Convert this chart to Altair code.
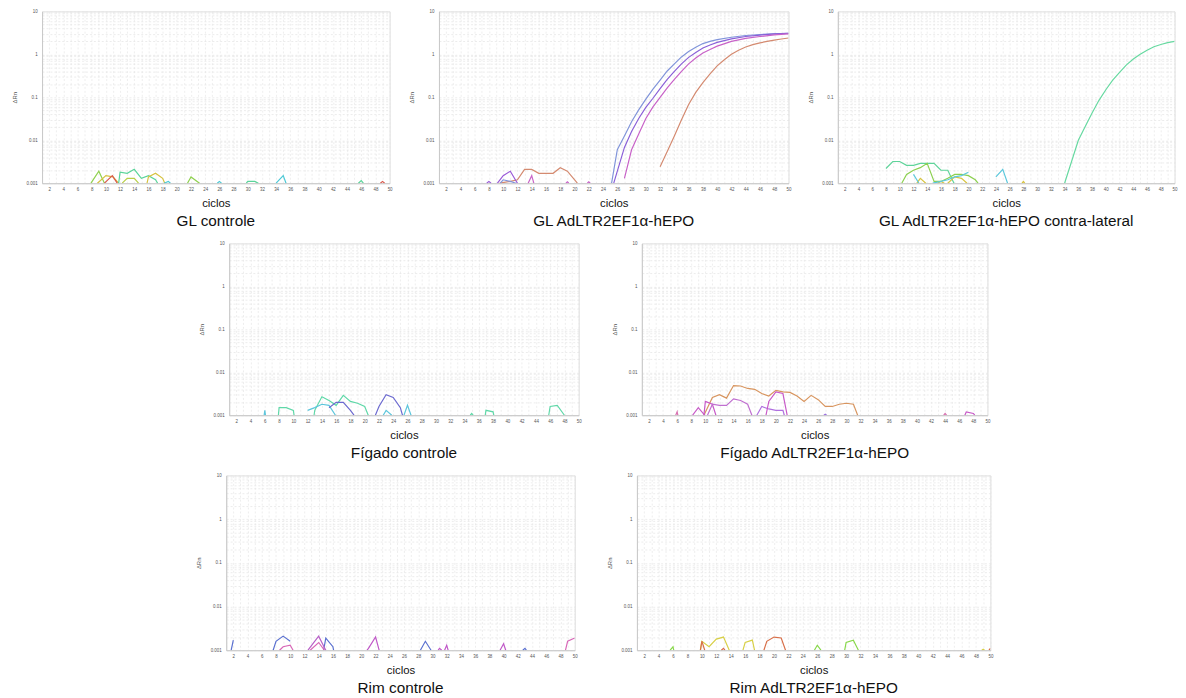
import altair as alt
import pandas as pd

# ---------------- data (cycle lists / ΔRn lists per trace) ----------------
# Panel 1: GL controle
P1 = [
    ("#8fd14f", [7.9, 9, 9.8], [0.001, 0.0019, 0.001]),
    ("#8fd14f", [21.5, 22, 23.2], [0.001, 0.0014, 0.001]),
    ("#d6c23e", [8.8, 10, 11, 11.8], [0.001, 0.0015, 0.0014, 0.001]),
    ("#d9574a", [9.8, 10.9, 11.6], [0.001, 0.0015, 0.001]),
    ("#d9574a", [48.7, 49, 49.3], [0.001, 0.0011, 0.001]),
    ("#5ad49a", [11.8, 12, 13, 14, 15, 16, 17, 17.3], [0.001, 0.0018, 0.0017, 0.0021, 0.0013, 0.0015, 0.0012, 0.001]),
    ("#5ad49a", [29.8, 30, 31, 31.5], [0.001, 0.0011, 0.0011, 0.001]),
    ("#5ad49a", [45.6, 46, 46.3], [0.001, 0.00115, 0.001]),
    ("#b8cf48", [12.3, 13, 14, 14.6], [0.001, 0.0013, 0.0013, 0.001]),
    ("#d6c23e", [15.8, 16, 17, 18, 18.3], [0.001, 0.0014, 0.0017, 0.0013, 0.001]),
    ("#4cc9d6", [18.2, 18.8, 19.1], [0.001, 0.0011, 0.001]),
    ("#4cc9d6", [25.7, 26, 26.3], [0.001, 0.0011, 0.001]),
    ("#4cc9d6", [34, 35, 35.4], [0.001, 0.0015, 0.001]),
]

# Panel 2: GL AdLTR2EF1α-hEPO
BLUE_C = [25.2, 26, 27, 28, 29, 30, 31, 32, 33, 34, 35, 36, 37, 38, 39, 40, 42, 44, 46, 48, 50]
BLUE_V = [0.001, 0.006, 0.0126, 0.027, 0.051, 0.091, 0.155, 0.25, 0.41, 0.6, 0.87, 1.16, 1.46, 1.78, 2.0, 2.2, 2.5, 2.75, 2.9, 3.0, 3.1]
PURP_C = [25.5, 27, 28, 29, 30, 31, 32, 33, 34, 35, 36, 37, 38, 39, 40, 42, 44, 46, 48, 50]
PURP_V = [0.001, 0.0068, 0.016, 0.032, 0.058, 0.095, 0.16, 0.26, 0.4, 0.6, 0.85, 1.1, 1.4, 1.65, 1.9, 2.3, 2.6, 2.8, 3.0, 3.1]
MAG_C = [27, 28, 29, 30, 31, 32, 33, 34, 35, 36, 37, 38, 39, 40, 42, 44, 46, 48, 50]
MAG_V = [0.0013, 0.006, 0.014, 0.032, 0.06, 0.1, 0.165, 0.26, 0.4, 0.6, 0.82, 1.07, 1.3, 1.55, 2.0, 2.35, 2.6, 2.85, 3.0]
TERRA_C = [32, 33, 34, 35, 36, 37, 38, 39, 40, 41, 42, 43, 44, 45, 46, 47, 48, 49, 50]
TERRA_V = [0.0024, 0.0055, 0.0126, 0.03, 0.068, 0.13, 0.22, 0.35, 0.54, 0.75, 1.0, 1.25, 1.48, 1.68, 1.85, 2.0, 2.15, 2.28, 2.4]
P2 = [
    ("#8094da", BLUE_C, BLUE_V),
    ("#8a60d8", PURP_C, PURP_V),
    ("#c862c8", MAG_C, MAG_V),
    ("#d48a70", TERRA_C, TERRA_V),
    ("#d48a70", [9.5, 11, 12, 13, 14, 15, 16, 17, 18, 19, 20.4],
     [0.001, 0.0011, 0.0012, 0.0021, 0.0021, 0.0017, 0.0017, 0.0017, 0.0023, 0.0019, 0.001]),
    ("#9a5ad8", [7.7, 8, 8.3], [0.001, 0.0011, 0.001]),
    ("#9a5ad8", [9.2, 10, 11, 12], [0.001, 0.0015, 0.0019, 0.001]),
    ("#c862c8", [13.5, 14, 14.3], [0.001, 0.0015, 0.001]),
    ("#8094da", [9.6, 10, 11, 11.8], [0.001, 0.0012, 0.0011, 0.001]),
    ("#c862c8", [18.8, 19, 19.2], [0.001, 0.00108, 0.001]),
    ("#c862c8", [21.8, 22, 22.2], [0.001, 0.00108, 0.001]),
]

# Panel 3: GL AdLTR2EF1α-hEPO contra-lateral
GREEN_C = [34, 36, 37, 38, 39, 40, 41, 42, 43, 44, 45, 46, 47, 48, 49, 50]
GREEN_V = [0.001, 0.01, 0.021, 0.043, 0.085, 0.15, 0.25, 0.38, 0.57, 0.78, 1.0, 1.25, 1.5, 1.7, 1.88, 2.0]
P3 = [
    ("#66d9a0", GREEN_C, GREEN_V),
    ("#5fd49a", [8, 9, 10, 11, 12, 13, 14, 15, 16, 17, 17.9],
     [0.0022, 0.0032, 0.0032, 0.0026, 0.0026, 0.0029, 0.0029, 0.0029, 0.002, 0.002, 0.001]),
    ("#8cd050", [10.3, 11, 12, 13, 14, 15, 16, 17, 18, 19, 20, 21, 21.4],
     [0.001, 0.0016, 0.002, 0.0023, 0.0029, 0.0011, 0.0011, 0.0013, 0.0016, 0.0016, 0.0015, 0.0012, 0.001]),
    ("#d8c440", [12.5, 13, 13.8], [0.001, 0.0013, 0.001]),
    ("#d8c440", [15.5, 16, 16.5], [0.001, 0.0011, 0.001]),
    ("#d8c440", [17, 18, 19, 19.8], [0.001, 0.0014, 0.0013, 0.001]),
    ("#d8c440", [27.8, 28, 28.2], [0.001, 0.0011, 0.001]),
    ("#5cc8dc", [12, 12.8], [0.0016, 0.001]),
    ("#5cc8dc", [14.8, 16, 17, 18, 19, 20], [0.001, 0.0011, 0.0012, 0.0014, 0.0015, 0.0018]),
    ("#5cc8dc", [24, 25, 25.7], [0.0014, 0.0021, 0.001]),
]

# Panel 4: Fígado controle
P4 = [
    ("#5fd8a8", [7.9, 8, 9, 10, 10.1], [0.001, 0.0015, 0.0015, 0.0013, 0.001]),
    ("#5fd8a8", [12.9, 13, 14, 15, 16, 17, 18, 19, 20, 20.5],
     [0.001, 0.0013, 0.0027, 0.0022, 0.0017, 0.0029, 0.0021, 0.0019, 0.0016, 0.001]),
    ("#5fd8a8", [34.8, 35, 35.2], [0.001, 0.0011, 0.001]),
    ("#5fd8a8", [36.9, 37, 38, 38.1], [0.001, 0.0013, 0.0012, 0.001]),
    ("#5fd8a8", [45.8, 46, 47, 48], [0.001, 0.0016, 0.0017, 0.001]),
    ("#5cc6dc", [5.9, 6, 6.1], [0.001, 0.0013, 0.001]),
    ("#5cc6dc", [12, 13, 14, 15, 15.9], [0.0013, 0.0015, 0.0018, 0.0017, 0.001]),
    ("#5cc6dc", [22.6, 23, 23.8], [0.001, 0.0013, 0.001]),
    ("#5cc6dc", [25.5, 26, 26.5], [0.001, 0.0017, 0.001]),
    ("#6c6ad0", [15, 16, 17, 18, 18.5], [0.0015, 0.002, 0.002, 0.0013, 0.001]),
    ("#6c6ad0", [21.5, 22, 23, 24, 25, 25.3], [0.001, 0.0016, 0.003, 0.0026, 0.0015, 0.001]),
]

# Panel 5: Fígado AdLTR2EF1α-hEPO
ORANGE_C = [9.8, 11, 12, 13, 14, 15, 16, 17, 18, 19, 20, 21, 22, 23, 24, 25, 26, 27, 28, 29, 30, 31, 31.6]
ORANGE_V = [0.001, 0.0026, 0.003, 0.0025, 0.0049, 0.0048, 0.0042, 0.004, 0.0032, 0.0028, 0.0038, 0.0035,
            0.0034, 0.0028, 0.0021, 0.0029, 0.0023, 0.0016, 0.0016, 0.0018, 0.0019, 0.0018, 0.001]
P5 = [
    ("#d8955f", ORANGE_C, ORANGE_V),
    ("#c85ac8", [8.2, 9, 9.9], [0.001, 0.0015, 0.001]),
    ("#c85ac8", [9.8, 10, 11, 11.5], [0.001, 0.0021, 0.0018, 0.001]),
    ("#c070d0", [10.3, 11, 12, 13, 14, 15, 16, 16.6], [0.001, 0.0018, 0.0017, 0.0017, 0.0024, 0.0022, 0.0018, 0.001]),
    ("#b070e0", [17.3, 18, 19, 20, 21, 21.2], [0.001, 0.0016, 0.0014, 0.0013, 0.0013, 0.001]),
    ("#c85ac8", [18.6, 19, 20, 21, 21.6], [0.001, 0.0021, 0.0035, 0.0032, 0.001]),
    ("#d870b0", [5.8, 6, 6.1], [0.001, 0.0012, 0.001]),
    ("#9a70e0", [26.8, 27, 27.2], [0.001, 0.00105, 0.001]),
    ("#d870b0", [43.8, 44, 44.2], [0.001, 0.0011, 0.001]),
    ("#c85ac8", [46.8, 47, 48, 48.2], [0.001, 0.0012, 0.0011, 0.001]),
]

# Panel 6: Rim controle
P6 = [
    ("#5a70d0", [1.7, 2], [0.001, 0.0017]),
    ("#5a70d0", [7.6, 8, 9, 10], [0.001, 0.0016, 0.0021, 0.0016]),
    ("#5a70d0", [14.7, 15, 16, 16.1], [0.001, 0.0019, 0.0012, 0.001]),
    ("#5a70d0", [28.3, 29, 29.8], [0.001, 0.0016, 0.001]),
    ("#5a70d0", [42.7, 43, 43.2], [0.001, 0.0011, 0.001]),
    ("#d868b8", [8.5, 9, 10, 10.4], [0.001, 0.0012, 0.0013, 0.001]),
    ("#b860c8", [12.5, 14, 15], [0.001, 0.0021, 0.001]),
    ("#d868b8", [12.8, 14, 14.8], [0.001, 0.0015, 0.001]),
    ("#c058c8", [20.8, 21, 22, 22.5], [0.001, 0.0011, 0.002, 0.001]),
    ("#c058c8", [30.8, 31, 31.3], [0.001, 0.0011, 0.001]),
    ("#c058c8", [31.7, 32, 32.2], [0.001, 0.0013, 0.001]),
    ("#c058c8", [39.5, 40, 40.3], [0.001, 0.0014, 0.001]),
    ("#d868b8", [48.7, 49, 50], [0.001, 0.0016, 0.0019]),
]

# Panel 7: Rim AdLTR2EF1α-hEPO
P7 = [
    ("#d8d048", [9.8, 10, 11, 12, 13, 13.8], [0.001, 0.0016, 0.0012, 0.0018, 0.002, 0.001]),
    ("#d8d048", [15.7, 16, 17, 17.3], [0.001, 0.0015, 0.0017, 0.001]),
    ("#d8d048", [48.8, 49, 49.2], [0.001, 0.00105, 0.001]),
    ("#d8704a", [9.8, 10, 10.4], [0.001, 0.0016, 0.001]),
    ("#d8704a", [12.7, 13, 13.2], [0.001, 0.0011, 0.001]),
    ("#d8704a", [18.6, 19, 20, 21, 21.6], [0.001, 0.0016, 0.002, 0.0019, 0.001]),
    ("#d8704a", [49.8, 50], [0.001, 0.0011]),
    ("#88d84a", [5.6, 6, 6.1], [0.001, 0.0012, 0.001]),
    ("#88d84a", [25.6, 26, 26.5], [0.001, 0.0013, 0.001]),
    ("#88d84a", [29.8, 30, 31, 31.7], [0.001, 0.0015, 0.0017, 0.001]),
]

TITLES = [
    "GL controle",
    "GL AdLTR2EF1α-hEPO",
    "GL AdLTR2EF1α-hEPO contra-lateral",
    "Fígado controle",
    "Fígado AdLTR2EF1α-hEPO",
    "Rim controle",
    "Rim AdLTR2EF1α-hEPO",
]

X_TICKS = list(range(1, 51))
Y_TICKS = [k * 10 ** d for d in range(-3, 1) for k in range(1, 10)] + [10]

FONT = "Liberation Sans, Arial, sans-serif"


def panel(series, title, w, h, yext=28):
    rows = []
    for i, (col, xs, ys) in enumerate(series):
        for x, y in zip(xs, ys):
            rows.append({"c": x, "v": y, "s": i, "col": col})
    df = pd.DataFrame(rows)
    return (
        alt.Chart(df)
        .mark_line(strokeWidth=1.2, clip=True)
        .encode(
            x=alt.X(
                "c:Q",
                scale=alt.Scale(domain=[1, 50], nice=False, zero=False),
                axis=alt.Axis(
                    values=X_TICKS,
                    labelExpr="datum.value % 2 == 0 ? datum.label : ''",
                    labelOverlap=False,
                    labelFlush=False,
                    labelFontSize=4.5,
                    labelColor="#555",
                    labelPadding=3,
                    ticks=False,
                    domainColor="#c8c8c8",
                    gridColor="#e6e6e6",
                    gridDash=[2, 2],
                    gridWidth=0.7,
                    title="ciclos",
                    titleFont=FONT,
                    titleFontSize=11.5,
                    titleFontWeight="normal",
                    titleColor="#111",
                    titlePadding=7,
                ),
            ),
            y=alt.Y(
                "v:Q",
                scale=alt.Scale(type="log", domain=[0.001, 10], nice=False),
                axis=alt.Axis(
                    values=Y_TICKS,
                    labelExpr="indexof([0.001,0.01,0.1,1,10], datum.value) >= 0 ? format(datum.value, '~g') : ''",
                    labelOverlap=False,
                    labelFontSize=4.5,
                    labelColor="#555",
                    labelPadding=5,
                    ticks=False,
                    domainColor="#c8c8c8",
                    gridColor="#e3e3e3",
                    gridDash=[2, 2],
                    gridWidth=0.7,
                    title="ΔRn",
                    titleFontSize=6,
                    titleFontWeight="normal",
                    titleColor="#555",
                    titleX=-25,
                    titleY=h / 2,
                    minExtent=yext,
                    maxExtent=yext,
                ),
            ),
            color=alt.Color("col:N", scale=None),
            detail="s:N",
            order="c:Q",
        )
        .properties(
            width=w,
            height=h,
            title=alt.TitleParams(
                title, orient="bottom", font=FONT, fontSize=15.5,
                fontWeight="normal", color="#111", offset=5,
            ),
        )
    )


p1 = panel(P1, TITLES[0], 352, 174)
p2 = panel(P2, TITLES[1], 354, 174)
p3 = panel(P3, TITLES[2], 341, 174)
p4 = panel(P4, TITLES[3], 354, 174, yext=38)
p5 = panel(P5, TITLES[4], 350, 174)
p6 = panel(P6, TITLES[5], 353, 177, yext=42)
p7 = panel(P7, TITLES[6], 358, 177)

row1 = alt.hconcat(p1, p2, p3, spacing=14)
row2 = alt.hconcat(p4, p5, spacing=28)
row3 = alt.hconcat(p6, p7, spacing=27)

chart = (
    alt.vconcat(row1, row2, row3, spacing=10, center=True)
    .properties(padding={"left": 2, "top": -5, "right": 0, "bottom": 0})
    .configure_view(stroke="#d0d0d0", strokeWidth=1)
    .configure(background="white")
)

chart.save("out.html", embed_options={"renderer": "svg", "actions": False})
